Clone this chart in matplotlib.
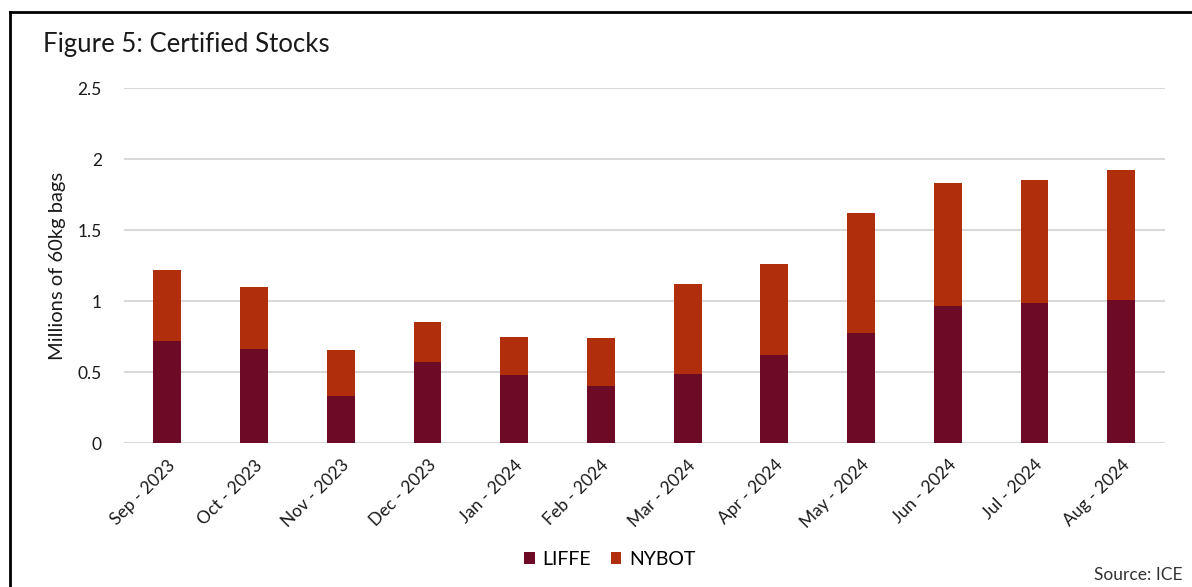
import matplotlib.pyplot as plt
from matplotlib.lines import Line2D
import numpy as np

plt.rcParams['font.family'] = ['Lato', 'DejaVu Sans']

months = ["Sep - 2023", "Oct - 2023", "Nov - 2023", "Dec - 2023", "Jan - 2024", "Feb - 2024",
          "Mar - 2024", "Apr - 2024", "May - 2024", "Jun - 2024", "Jul - 2024", "Aug - 2024"]
liffe = [0.72, 0.665, 0.333, 0.57, 0.479, 0.401, 0.486, 0.62, 0.776, 0.965, 0.986, 1.005]
total = [1.215, 1.10, 0.658, 0.849, 0.746, 0.739, 1.12, 1.262, 1.619, 1.831, 1.854, 1.92]
nybot = [t - l for t, l in zip(total, liffe)]

c_liffe = '#6d0b26'
c_nybot = '#b02e0c'

fig = plt.figure(figsize=(11.92, 5.87), dpi=100)
ax = fig.add_axes([0.104, 0.2453, 0.873, 0.6047])

x = np.arange(len(months))
ax.bar(x, liffe, width=0.32, color=c_liffe, label='LIFFE', zorder=3)
ax.bar(x, nybot, width=0.32, bottom=liffe, color=c_nybot, label='NYBOT', zorder=3)

ax.set_xlim(-0.5, len(months) - 0.5)
ax.set_ylim(0, 2.5)
ax.set_yticks([0, 0.5, 1, 1.5, 2, 2.5])
ax.set_yticklabels(['0', '0.5', '1', '1.5', '2', '2.5'])
ax.yaxis.grid(True, color='#d9d9d9', linewidth=1.5, zorder=0)
ax.set_axisbelow(True)
for s in ax.spines.values():
    s.set_visible(False)
ax.tick_params(axis='both', length=0, labelsize=12.5, colors='#1a1a1a')
ax.tick_params(axis='y', pad=16)
ax.set_xticks(x)
ax.set_xticklabels(months, rotation=45, ha='right', rotation_mode='anchor')
ax.tick_params(axis='x', pad=10)
ax.set_ylabel('Millions of 60kg bags', fontsize=14.5, color='#1a1a1a', labelpad=8)

fig.text(0.036, 0.925, 'Figure 5: Certified Stocks', fontsize=18.5, color='#1a1a1a', va='center')
fig.text(0.992, 0.02, 'Source: ICE', fontsize=12.5, color='#333333', ha='right', va='center')

ax.legend(loc='center', bbox_to_anchor=(0.467, -0.327), ncol=2, frameon=False, fontsize=14,
          handlelength=0.55, handleheight=0.55, handletextpad=0.4, columnspacing=1.0)

# frame at top and left
fig.add_artist(Line2D([0.008, 0.008], [0, 0.98], transform=fig.transFigure, color='black', lw=2))
fig.add_artist(Line2D([0.008, 1.0], [0.98, 0.98], transform=fig.transFigure, color='black', lw=2))

fig.savefig('out.png', dpi=100)
